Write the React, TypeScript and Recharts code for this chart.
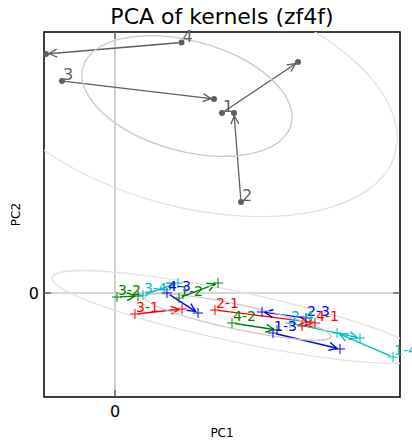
import {
  ScatterChart,
  Scatter,
  XAxis,
  YAxis,
  ReferenceLine,
  ReferenceArea,
} from "recharts";

// visible window in PC units
const X_MIN = -0.71;
const X_MAX = 2.85;
const Y_MIN = -1.04;
const Y_MAX = 2.61;

const WIDTH = 412;
const HEIGHT = 441;
const MARGIN = { top: 32, right: 12, bottom: 0, left: 0 };
const Y_AXIS_W = 44;
const X_AXIS_H = 44;
const PLOT_W = WIDTH - MARGIN.left - MARGIN.right - Y_AXIS_W;
const PLOT_H = HEIGHT - MARGIN.top - MARGIN.bottom - X_AXIS_H;
const PX_X = PLOT_W / (X_MAX - X_MIN);
const PX_Y = PLOT_H / (Y_MAX - Y_MIN);

const FONT = "DejaVu Sans";
const GRAY = "#5e5e5e";

// single kernels: where each one starts and where it moves to
const kernelNames = ["1", "2", "3", "4"];
const kernelStartX = [1.07, 1.26, -0.53, 0.665];
const kernelStartY = [1.8, 0.91, 2.12, 2.505];
const kernelEndX = [1.83, 1.19, 0.99, -0.69];
const kernelEndY = [2.31, 1.8, 1.94, 2.39];

// kernel pairs "from-to"
const pairNames = ["3-2", "3-4", "4-3", "1-2", "3-1", "2-1", "4-2", "1-3", "2-3", "4-1", "2-4", "1-4"];
const pairStartX = [0.02, 0.28, 0.52, 0.64, 0.2, 1.0, 1.17, 1.58, 1.91, 2.0, 1.75, 2.78];
const pairStartY = [-0.04, -0.02, 0.0, -0.05, -0.21, -0.17, -0.3, -0.4, -0.25, -0.3, -0.3, -0.64];
const pairEndX = [0.23, 0.63, 0.83, 1.03, 0.67, 1.95, 1.62, 2.25, 1.47, 1.87, 2.45, 2.22];
const pairEndY = [-0.03, 0.1, -0.2, 0.1, -0.16, -0.29, -0.37, -0.56, -0.19, -0.33, -0.45, -0.4];

// covariance ellipses of the two groups (1 sd), drawn at 1 and 2 sd
const groupCx = [0.72, 1.23];
const groupCy = [1.97, -0.24];
const groupA = [1.08, 0.95];
const groupB = [0.55, 0.125];
const groupAngle = [-15.4, -12];
const sdLevels = [1, 2];

const TARGET_COLORS: Record<string, string> = {
  "1": "#ff0000",
  "2": "#008000",
  "3": "#0000ff",
  "4": "#00bfbf",
};
const SD_STROKE: Record<number, string> = { 1: "#c8c8c8", 2: "#e2e2e2" };

const kernelStarts = kernelNames.map((name, i) => ({
  x: kernelStartX[i],
  y: kernelStartY[i],
  name,
}));
const kernelEnds = kernelNames.map((name, i) => ({
  x: kernelEndX[i],
  y: kernelEndY[i],
  name,
}));
const pairStarts = pairNames.map((name, i) => ({
  x: pairStartX[i],
  y: pairStartY[i],
  name,
  color: TARGET_COLORS[name.split("-")[1]],
}));
const pairEnds = pairNames.map((name, i) => ({
  x: pairEndX[i],
  y: pairEndY[i],
  name,
  color: TARGET_COLORS[name.split("-")[1]],
}));
const ellipses = groupCx.flatMap((cx, g) =>
  sdLevels.map((level) => ({
    x: cx,
    y: groupCy[g],
    a: groupA[g] * level,
    b: groupB[g] * level,
    angle: groupAngle[g],
    level,
  }))
);

const SHRINK = 3;
const HEAD_L = 8;
const HEAD_W = 4;

function ArrowShape(props: any) {
  const { x1, y1, x2, y2, stroke, strokeWidth } = props;
  const dx = x2 - x1;
  const dy = y2 - y1;
  const len = Math.hypot(dx, dy) || 1;
  const ux = dx / len;
  const uy = dy / len;
  const sx = x1 + ux * SHRINK;
  const sy = y1 + uy * SHRINK;
  const ex = x2 - ux * SHRINK;
  const ey = y2 - uy * SHRINK;
  const hx = ex - ux * HEAD_L;
  const hy = ey - uy * HEAD_L;
  const px = -uy * HEAD_W;
  const py = ux * HEAD_W;
  return (
    <g>
      <line x1={sx} y1={sy} x2={ex} y2={ey} stroke={stroke} strokeWidth={strokeWidth} />
      <path
        d={`M${hx + px},${hy + py}L${ex},${ey}L${hx - px},${hy - py}`}
        fill="none"
        stroke={stroke}
        strokeWidth={strokeWidth}
      />
    </g>
  );
}

function EllipseShape(props: any) {
  const { cx, cy, payload } = props;
  return (
    <ellipse
      cx={cx}
      cy={cy}
      rx={payload.a * PX_X}
      ry={payload.b * PX_Y}
      transform={`rotate(${-payload.angle} ${cx} ${cy})`}
      fill="none"
      stroke={SD_STROKE[payload.level]}
      strokeWidth={1.3}
    />
  );
}

function DotShape(props: any) {
  return <circle cx={props.cx} cy={props.cy} r={3} fill={GRAY} />;
}

function PlusShape(props: any) {
  const { cx, cy, payload } = props;
  return (
    <path
      d={`M${cx - 5},${cy}h10M${cx},${cy - 5}v10`}
      stroke={payload.color}
      strokeWidth={1}
      fill="none"
    />
  );
}

function KernelLabel(props: any) {
  const { cx, cy, payload } = props;
  return (
    <text x={cx + 1} y={cy - 1} fontSize={16} fontFamily={FONT} fill={GRAY}>
      {payload.name}
    </text>
  );
}

function PairLabel(props: any) {
  const { cx, cy, payload } = props;
  return (
    <text x={cx + 1} y={cy - 2} fontSize={14} fontFamily={FONT} fill={payload.color}>
      {payload.name}
    </text>
  );
}

const xLabel = () => (
  <text
    x={MARGIN.left + Y_AXIS_W + PLOT_W / 2}
    y={HEIGHT - 4}
    textAnchor="middle"
    fontSize={12}
    fontFamily={FONT}
    fill="#000"
  >
    PC1
  </text>
);

const yLabel = () => {
  const cx = 20;
  const cy = MARGIN.top + PLOT_H / 2;
  return (
    <text
      x={cx}
      y={cy}
      transform={`rotate(-90 ${cx} ${cy})`}
      textAnchor="middle"
      fontSize={12}
      fontFamily={FONT}
      fill="#000"
    >
      PC2
    </text>
  );
};

const TICK_LEN = 0.07;

export default function App() {
  return (
    <div style={{ position: "absolute", left: 0, top: 0, width: WIDTH, height: HEIGHT, background: "#fff" }}>
      <svg width={WIDTH} height={30} style={{ position: "absolute", left: 0, top: 0 }}>
        <text
          x={MARGIN.left + Y_AXIS_W + PLOT_W / 2}
          y={24}
          textAnchor="middle"
          fontSize={22}
          fontFamily={FONT}
          fill="#000"
        >
          PCA of kernels (zf4f)
        </text>
      </svg>
      <ScatterChart width={WIDTH} height={HEIGHT} margin={MARGIN}>
        <XAxis
          type="number"
          dataKey="x"
          domain={[X_MIN, X_MAX]}
          ticks={[0]}
          height={X_AXIS_H}
          tickSize={3}
          tickMargin={6}
          tickLine={false}
          axisLine={false}
          tick={{ fontSize: 16, fill: "#000", fontFamily: FONT }}
          label={{ content: xLabel }}
        />
        <YAxis
          type="number"
          dataKey="y"
          domain={[Y_MIN, Y_MAX]}
          ticks={[0]}
          width={Y_AXIS_W}
          tickSize={3}
          tickMargin={2}
          tickLine={false}
          axisLine={false}
          tick={{ fontSize: 16, fill: "#000", fontFamily: FONT }}
          label={{ content: yLabel }}
        />
        <XAxis xAxisId="clip" type="number" dataKey="x" domain={[X_MIN, X_MAX]} hide allowDataOverflow />
        <YAxis yAxisId="clip" type="number" dataKey="y" domain={[Y_MIN, Y_MAX]} hide allowDataOverflow />

        <Scatter
          data={ellipses}
          xAxisId="clip"
          yAxisId="clip"
          shape={EllipseShape}
          isAnimationActive={false}
        />

        <ReferenceLine x={0} stroke="#b0b0b0" strokeWidth={1.2} />
        <ReferenceLine y={0} stroke="#b0b0b0" strokeWidth={1.2} />
        <ReferenceLine segment={[{ x: 0, y: Y_MIN }, { x: 0, y: Y_MIN + TICK_LEN }]} stroke="#333" />
        <ReferenceLine segment={[{ x: 0, y: Y_MAX }, { x: 0, y: Y_MAX - TICK_LEN }]} stroke="#333" />
        <ReferenceLine segment={[{ x: X_MIN, y: 0 }, { x: X_MIN + TICK_LEN, y: 0 }]} stroke="#333" />
        <ReferenceLine segment={[{ x: X_MAX, y: 0 }, { x: X_MAX - TICK_LEN, y: 0 }]} stroke="#333" />

        {kernelStarts.map((s, i) => (
          <ReferenceLine
            key={`k-${s.name}`}
            segment={[{ x: s.x, y: s.y }, { x: kernelEnds[i].x, y: kernelEnds[i].y }]}
            stroke={GRAY}
            strokeWidth={1.3}
            shape={ArrowShape}
          />
        ))}
        {pairStarts.map((s, i) => (
          <ReferenceLine
            key={`p-${s.name}`}
            segment={[{ x: s.x, y: s.y }, { x: pairEnds[i].x, y: pairEnds[i].y }]}
            stroke={s.color}
            strokeWidth={1.4}
            shape={ArrowShape}
          />
        ))}

        <Scatter data={[...kernelStarts, ...kernelEnds]} shape={DotShape} isAnimationActive={false} />
        <Scatter data={[...pairStarts, ...pairEnds]} shape={PlusShape} isAnimationActive={false} />
        <Scatter data={kernelStarts} shape={KernelLabel} isAnimationActive={false} />
        <Scatter data={pairStarts} shape={PairLabel} isAnimationActive={false} />

        <ReferenceArea
          x1={X_MIN}
          x2={X_MAX}
          y1={Y_MIN}
          y2={Y_MAX}
          fill="none"
          fillOpacity={0}
          stroke="#000"
          strokeWidth={1.5}
          ifOverflow="visible"
        />
      </ScatterChart>
    </div>
  );
}
